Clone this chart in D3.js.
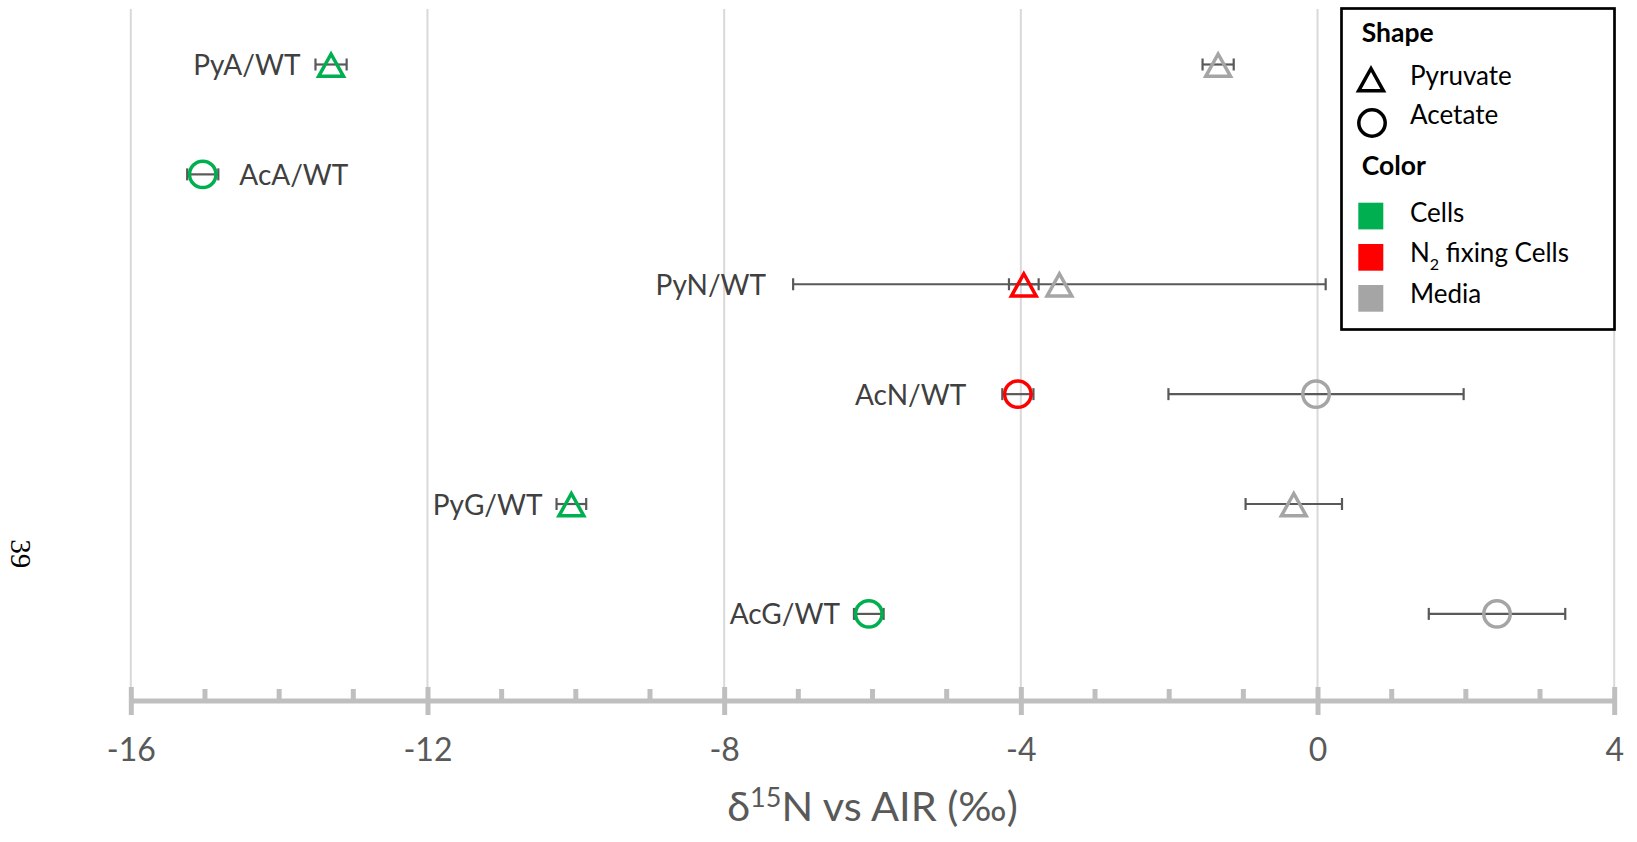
<!DOCTYPE html>
<html><head><meta charset="utf-8">
<script src="https://cdn.jsdelivr.net/npm/d3@7"></script>
<style>
  body { margin: 0; background: #fff; }
  svg { display: block; }
  text { font-family: Lato, "Open Sans", sans-serif; }
</style>
</head><body>
<svg id="chart" width="1637" height="842"></svg>
<script>
// Sample groups (top to bottom)
const categories = ["PyA/WT", "AcA/WT", "PyN/WT", "AcN/WT", "PyG/WT", "AcG/WT"];
const substrate  = ["Pyruvate", "Acetate", "Pyruvate", "Acetate", "Pyruvate", "Acetate"];
const cellType   = ["Cells", "Cells", "N2 fixing Cells", "N2 fixing Cells", "Cells", "Cells"];

// δ15N of the cells and of the media (‰ vs AIR), with error bar half-widths
const cellValues  = [-13.30, -15.03, -3.96, -4.04, -10.06, -6.05];
const cellErrors  = [0.21, 0.21, 0.20, 0.21, 0.20, 0.20];
const mediaValues = [-1.34, null, -3.48, -0.02, -0.32, 2.42];
const mediaErrors = [0.21, null, 3.59, 1.99, 0.65, 0.92];

// Axis ticks
const xTicks = [-16, -12, -8, -4, 0, 4];
const xMinorTicks = [-15, -14, -13, -11, -10, -9, -7, -6, -5, -3, -2, -1, 1, 2, 3];

// Label placement for each group: side of the row and gap (px) from the outermost whisker
const labelSide = ["left", "right", "left", "left", "left", "left"];
const labelGap  = [15, 21, 27, 36, 14, 14];

const colors = { "Cells": "#00b050", "N2 fixing Cells": "#ff0000", "Media": "#a5a5a5" };
const whiskerColor = "#595959";

const svg = d3.select("#chart");
const axisY = 701, plotTop = 9;

const x = d3.scaleLinear().domain([-16, 4]).range([130.8, 1614.2]);
const y = d3.scalePoint().domain(categories).range([64.5, 613.9]);

// vertical gridlines
svg.append("g").selectAll("line").data(xTicks).join("line")
  .attr("x1", d => x(d)).attr("x2", d => x(d))
  .attr("y1", plotTop).attr("y2", axisY)
  .attr("stroke", "#d9d9d9").attr("stroke-width", 2);

// x axis
const axisG = svg.append("g").attr("transform", `translate(0,${axisY})`)
  .call(d3.axisBottom(x).tickValues(xTicks).tickSizeOuter(0).tickSize(14).tickFormat(d3.format("d")));
axisG.select(".domain").attr("stroke", "#bfbfbf").attr("stroke-width", 5)
  .attr("d", `M${x(-16)},0H${x(4)}`);
axisG.selectAll(".tick line").attr("stroke", "#bfbfbf").attr("stroke-width", 5)
  .attr("y1", -14).attr("y2", 14);
axisG.selectAll(".tick text").attr("fill", "#595959").attr("font-size", 32)
  .attr("y", 59.5).attr("dy", null)
  .text(d => d < 0 ? "-" + Math.abs(d) : d);
axisG.selectAll(".minor").data(xMinorTicks).join("line").attr("class", "minor")
  .attr("x1", d => x(d)).attr("x2", d => x(d))
  .attr("y1", -12).attr("y2", 1)
  .attr("stroke", "#bfbfbf").attr("stroke-width", 5);

// axis title
const title = svg.append("text")
  .attr("x", 872.5).attr("y", 820.7).attr("text-anchor", "middle")
  .attr("fill", "#595959").attr("font-size", 41.5);
title.append("tspan").text("δ");
title.append("tspan").attr("font-size", 27).attr("dy", -14).text("15");
title.append("tspan").attr("dy", 14).text("N vs AIR (‰)");

// marker shapes
const triPath = "M0,-10.5L12.4,11.8L-12.4,11.8Z";
function drawMarker(g, shape, color) {
  if (shape === "Pyruvate") {
    g.append("path").attr("d", triPath).attr("fill", "none")
      .attr("stroke", color).attr("stroke-width", 3.5).attr("stroke-linejoin", "miter");
  } else {
    g.append("circle").attr("r", 13.2).attr("fill", "none")
      .attr("stroke", color).attr("stroke-width", 3.5);
  }
}
function drawWhisker(g, cy, v, e) {
  const x0 = x(v - e), x1 = x(v + e);
  g.append("line").attr("x1", x0).attr("x2", x1).attr("y1", cy).attr("y2", cy)
    .attr("stroke", whiskerColor).attr("stroke-width", 2.2);
  [x0, x1].forEach(xx => g.append("line").attr("x1", xx).attr("x2", xx)
    .attr("y1", cy - 6).attr("y2", cy + 6)
    .attr("stroke", whiskerColor).attr("stroke-width", 2.2));
}

const rows = categories.map((c, i) => ({
  cat: c, shape: substrate[i], type: cellType[i],
  cv: cellValues[i], ce: cellErrors[i], mv: mediaValues[i], me: mediaErrors[i],
  side: labelSide[i], gap: labelGap[i]
}));

const marks = svg.append("g");
// media series
rows.filter(r => r.mv !== null).forEach(r => {
  const cy = y(r.cat);
  drawWhisker(marks, cy, r.mv, r.me);
  drawMarker(marks.append("g").attr("transform", `translate(${x(r.mv)},${cy})`), r.shape, colors["Media"]);
});
// cell series
rows.forEach(r => {
  const cy = y(r.cat);
  drawWhisker(marks, cy, r.cv, r.ce);
  drawMarker(marks.append("g").attr("transform", `translate(${x(r.cv)},${cy})`), r.shape, colors[r.type]);
});

// group labels
svg.append("g").selectAll("text").data(rows).join("text")
  .attr("x", r => {
    if (r.side === "left") {
      const lo = Math.min(r.cv - r.ce, r.mv === null ? Infinity : r.mv - r.me);
      return x(lo) - r.gap;
    }
    const hi = Math.max(r.cv + r.ce, r.mv === null ? -Infinity : r.mv + r.me);
    return x(hi) + r.gap;
  })
  .attr("y", r => y(r.cat) + 10.5)
  .attr("text-anchor", r => r.side === "left" ? "end" : "start")
  .attr("fill", "#404040").attr("font-size", 28)
  .text(r => r.cat);

// legend
const lg = svg.append("g");
lg.append("rect").attr("x", 1341.5).attr("y", 8.5).attr("width", 273).attr("height", 321)
  .attr("fill", "#fff").attr("stroke", "#000").attr("stroke-width", 2.7);
const legendText = (tx, ty, t, bold) => lg.append("text").attr("x", tx).attr("y", ty)
  .attr("font-size", bold ? 26.5 : 26).attr("font-weight", bold ? 700 : 400).attr("fill", "#000").text(t);
legendText(1361.7, 41.7, "Shape", true);
drawMarker(lg.append("g").attr("transform", "translate(1371,79)"), "Pyruvate", "#000");
legendText(1410, 85, "Pyruvate");
drawMarker(lg.append("g").attr("transform", "translate(1372,123)"), "Acetate", "#000");
legendText(1410, 124.3, "Acetate");
legendText(1361.7, 175, "Color", true);
const colorItems = [["Cells", 202.7, 221.7], ["N2 fixing Cells", 244, 262.3], ["Media", 285, 303.3]];
colorItems.forEach(([k, sy, ty]) => {
  lg.append("rect").attr("x", 1358.3).attr("y", sy).attr("width", 25).attr("height", 26.7)
    .attr("fill", colors[k]);
  const t = lg.append("text").attr("x", 1410).attr("y", ty).attr("font-size", 26).attr("fill", "#000");
  if (k === "N2 fixing Cells") {
    t.append("tspan").text("N");
    t.append("tspan").attr("font-size", 16).attr("dy", 8).text("2");
    t.append("tspan").attr("dy", -8).text(" fixing Cells");
  } else {
    t.text(k);
  }
});

// page number
svg.append("text").attr("transform", "translate(11,553.7) rotate(90)")
  .attr("text-anchor", "middle")
  .style("font-family", "'Liberation Serif', serif")
  .attr("font-size", 29).attr("fill", "#000").text("39");
</script>
</body></html>
